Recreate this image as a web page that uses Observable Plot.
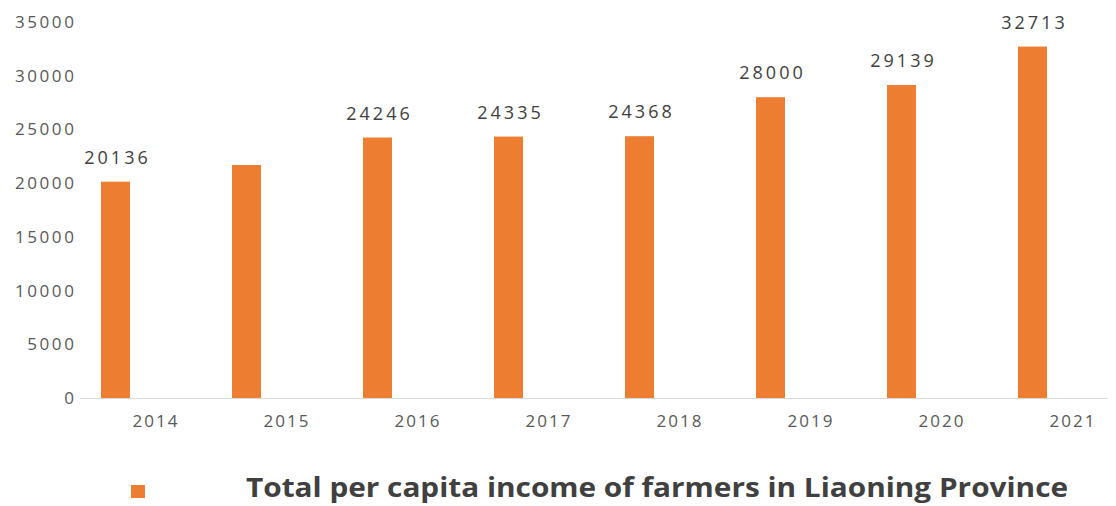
<!DOCTYPE html>
<html>
<head>
<meta charset="utf-8">
<script src="https://cdn.jsdelivr.net/npm/d3@7"></script>
<script src="https://cdn.jsdelivr.net/npm/@observablehq/plot@0.6"></script>
<style>
  html, body { margin: 0; padding: 0; background: #fff; }
  #wrap { position: relative; width: 1116px; height: 506px; overflow: hidden; }
  #legendSw { position: absolute; left: 131px; top: 485px; width: 14px; height: 13px; background: #ED7D31; }
  #legendText { position: absolute; left: 246px; top: 469px; line-height: 36px; white-space: nowrap;
            font-family: "Open Sans", sans-serif; font-weight: bold; font-size: 26px; color: #404040;
            transform: scaleX(1.145); transform-origin: left center; }
  #chart g[aria-label="y-axis tick label"] text { letter-spacing: 2.6px; }
  #chart g[aria-label="x-axis tick label"] text { letter-spacing: 2px; }
  #chart g[aria-label="text"] text { letter-spacing: 3px; }
</style>
</head>
<body>
<div id="wrap">
  <div id="chart"></div>
  <div id="legendSw"></div>
  <div id="legendText"></div>
</div>
<script>
const years = ["2014", "2015", "2016", "2017", "2018", "2019", "2020", "2021"];
const income = [20136, 21690, 24246, 24335, 24368, 28000, 29139, 32713];
const valueLabels = ["20136", null, "24246", "24335", "24368", "28000", "29139", "32713"];
const yTicks = [0, 5000, 10000, 15000, 20000, 25000, 30000, 35000];
const seriesName = "Total per capita income of farmers in Liaoning Province";
const barColor = "#ED7D31";

const data = years.map((y, i) => ({year: y, value: income[i], label: valueLabels[i]}));
document.getElementById("legendText").textContent = seriesName;

const chart = Plot.plot({
  width: 1116,
  height: 445,
  marginTop: 22,
  marginBottom: 47,
  marginLeft: 80,
  marginRight: 8,
  style: {fontFamily: "'Open Sans', sans-serif", fontSize: "17px", color: "#595959", background: "#fff"},
  x: {domain: years, range: [101, 1047], paddingInner: 0.779, paddingOuter: 0, label: null},
  y: {domain: [0, 35000], label: null},
  marks: [
    Plot.axisY({ticks: yTicks, tickSize: 0, tickPadding: 4, tickFormat: d => String(d), fontSize: 17, fill: "#595959", label: null}),
    Plot.axisX({tickSize: 0, tickPadding: 16, dx: 40, fontSize: 17, fill: "#595959", label: null}),
    Plot.barY(data, {x: "year", y: "value", fill: barColor}),
    Plot.ruleY([0], {stroke: "#d9d9d9", strokeWidth: 1}),
    Plot.text(data.filter(d => d.label), {x: "year", y: "value", text: "label", dy: -24, dx: 1.5, fontSize: 18, fill: "#404040"})
  ]
});
document.getElementById("chart").appendChild(chart);
</script>
</body>
</html>
